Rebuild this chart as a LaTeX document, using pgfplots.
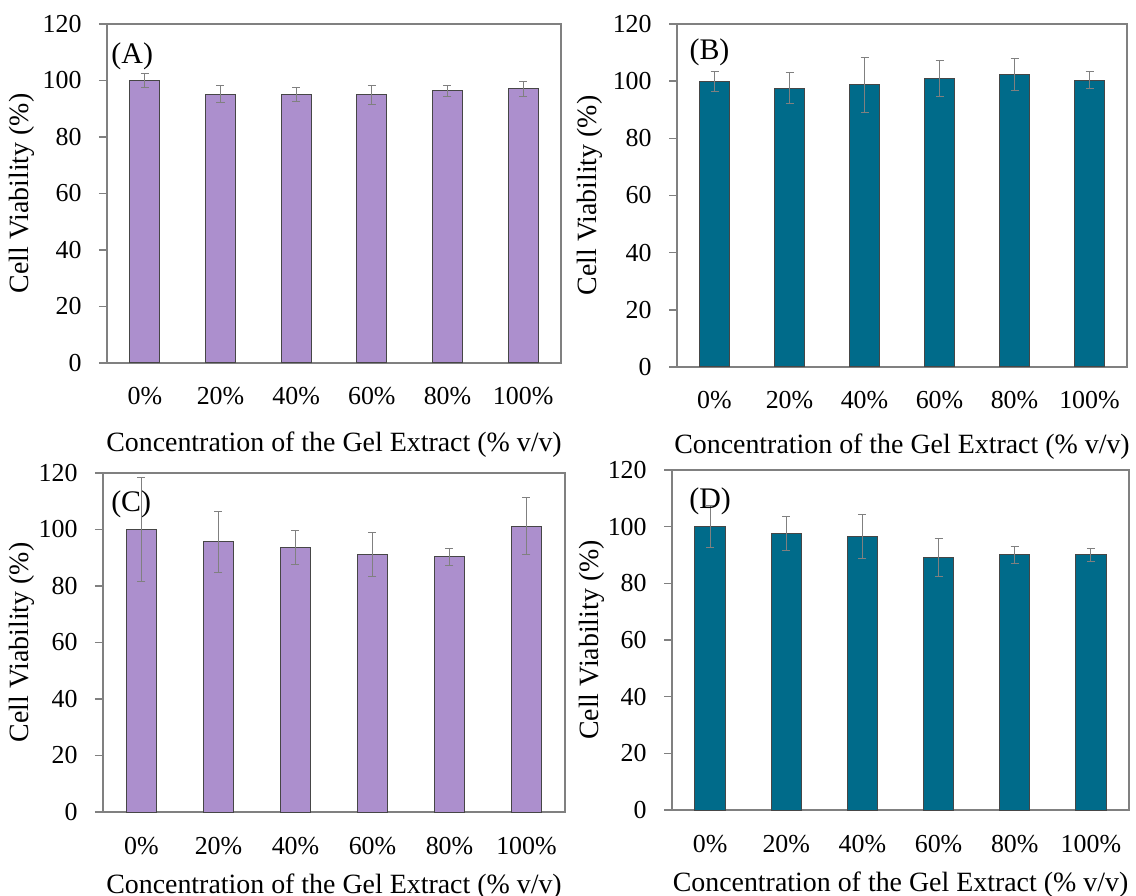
\documentclass[border=0pt]{standalone}
\usepackage{fontspec}
\setmainfont{Liberation Serif}
\usepackage{pgfplots}
\pgfplotsset{compat=1.18}
\definecolor{barpurple}{RGB}{172,143,205}
\definecolor{barteal}{RGB}{0,107,138}
\definecolor{axgray}{RGB}{128,128,128}
\definecolor{edgegray}{RGB}{70,70,70}

\pgfplotsset{
 panel/.style={
  scale only axis, anchor=south west,
  xmin=-0.5, xmax=5.5, ymin=0, ymax=120,
  ytick={0,20,...,120},
  xtick={0,...,5},
  xticklabels={0\%,20\%,40\%,60\%,80\%,100\%},
  /pgf/number format/assume math mode=true,
  tick align=outside,
  ytick pos=left,
  tick style={axgray, line width=0.75bp},
  major x tick style={draw=none},
  major tick length=4bp,
  axis line style={axgray, line width=0.75bp},
  ticklabel style={font=\fontsize{13}{15}\selectfont},
  label style={font=\fontsize{14}{16}\selectfont},
  yticklabel style={anchor=east, inner sep=0pt, xshift=-8.5bp},
  xticklabel style={anchor=base, inner sep=0pt, yshift=-17bp},
  ylabel={Cell Viability (\%)},
  xlabel={Concentration of the Gel Extract (\% v/v)},
  ybar, bar width=0.4,
  error bars/y dir=both, error bars/y explicit,
  error bars/error bar style={axgray, line width=0.5bp},
  error bars/error mark options={rotate=90, axgray, mark size=2bp, line width=0.5bp},
  clip=false,
 }
}

\begin{document}
\begin{tikzpicture}
\useasboundingbox (0,0) rectangle (568bp,448bp);

% (A)
\begin{axis}[panel, at={(53.5bp,266.5bp)}, width=227bp, height=169.5bp,
  ylabel style={at={(axis description cs:-0.187,0.5)}, anchor=center},
  xlabel style={at={(axis description cs:0.5,-0.26)}, anchor=base}]
\addplot[fill=barpurple, draw=edgegray, line width=0.5bp] coordinates {
 (0,100.0) +- (0,2.4)
 (1,95.1) +- (0,3.0)
 (2,94.9) +- (0,2.5)
 (3,94.9) +- (0,3.3)
 (4,96.3) +- (0,1.9)
 (5,97.0) +- (0,2.6)
};
\node[anchor=north west, inner sep=0pt, font=\fontsize{15}{17}\selectfont] at (rel axis cs:0.009,0.947) {(A)};
\end{axis}

% (B)
\begin{axis}[panel, at={(338.5bp,264.5bp)}, width=225bp, height=171.5bp,
  ylabel style={at={(axis description cs:-0.193,0.5)}, anchor=center},
  xlabel style={at={(axis description cs:0.5,-0.251)}, anchor=base}]
\addplot[fill=barteal, draw=edgegray, line width=0.5bp] coordinates {
 (0,100.0) +- (0,3.5)
 (1,97.5) +- (0,5.4)
 (2,98.8) +- (0,9.6)
 (3,101.0) +- (0,6.2)
 (4,102.5) +- (0,5.6)
 (5,100.3) +- (0,3.0)
};
\node[anchor=north west, inner sep=0pt, font=\fontsize{15}{17}\selectfont] at (rel axis cs:0.027,0.959) {(B)};
\end{axis}

% (C)
\begin{axis}[panel, at={(51.5bp,42bp)}, width=231bp, height=169.5bp,
  ylabel style={at={(axis description cs:-0.175,0.5)}, anchor=center},
  xlabel style={at={(axis description cs:0.5,-0.239)}, anchor=base}]
\addplot[fill=barpurple, draw=edgegray, line width=0.5bp] coordinates {
 (0,100.0) +- (0,18.4)
 (1,95.7) +- (0,10.8)
 (2,93.6) +- (0,6.1)
 (3,91.1) +- (0,7.7)
 (4,90.3) +- (0,3.1)
 (5,101.1) +- (0,10.1)
};
\node[anchor=north west, inner sep=0pt, font=\fontsize{15}{17}\selectfont] at (rel axis cs:0.017,0.95) {(C)};
\end{axis}

% (D)
\begin{axis}[panel, at={(336bp,43bp)}, width=228.5bp, height=170bp,
  ylabel style={at={(axis description cs:-0.175,0.5)}, anchor=center},
  xlabel style={at={(axis description cs:0.5,-0.241)}, anchor=base}]
\addplot[fill=barteal, draw=edgegray, line width=0.5bp] coordinates {
 (0,100.0) +- (0,7.5)
 (1,97.6) +- (0,6.1)
 (2,96.5) +- (0,7.9)
 (3,89.1) +- (0,6.7)
 (4,90.0) +- (0,3.1)
 (5,90.0) +- (0,2.3)
};
\node[anchor=north west, inner sep=0pt, font=\fontsize{15}{17}\selectfont] at (rel axis cs:0.037,0.95) {(D)};
\end{axis}
\end{tikzpicture}
\end{document}
